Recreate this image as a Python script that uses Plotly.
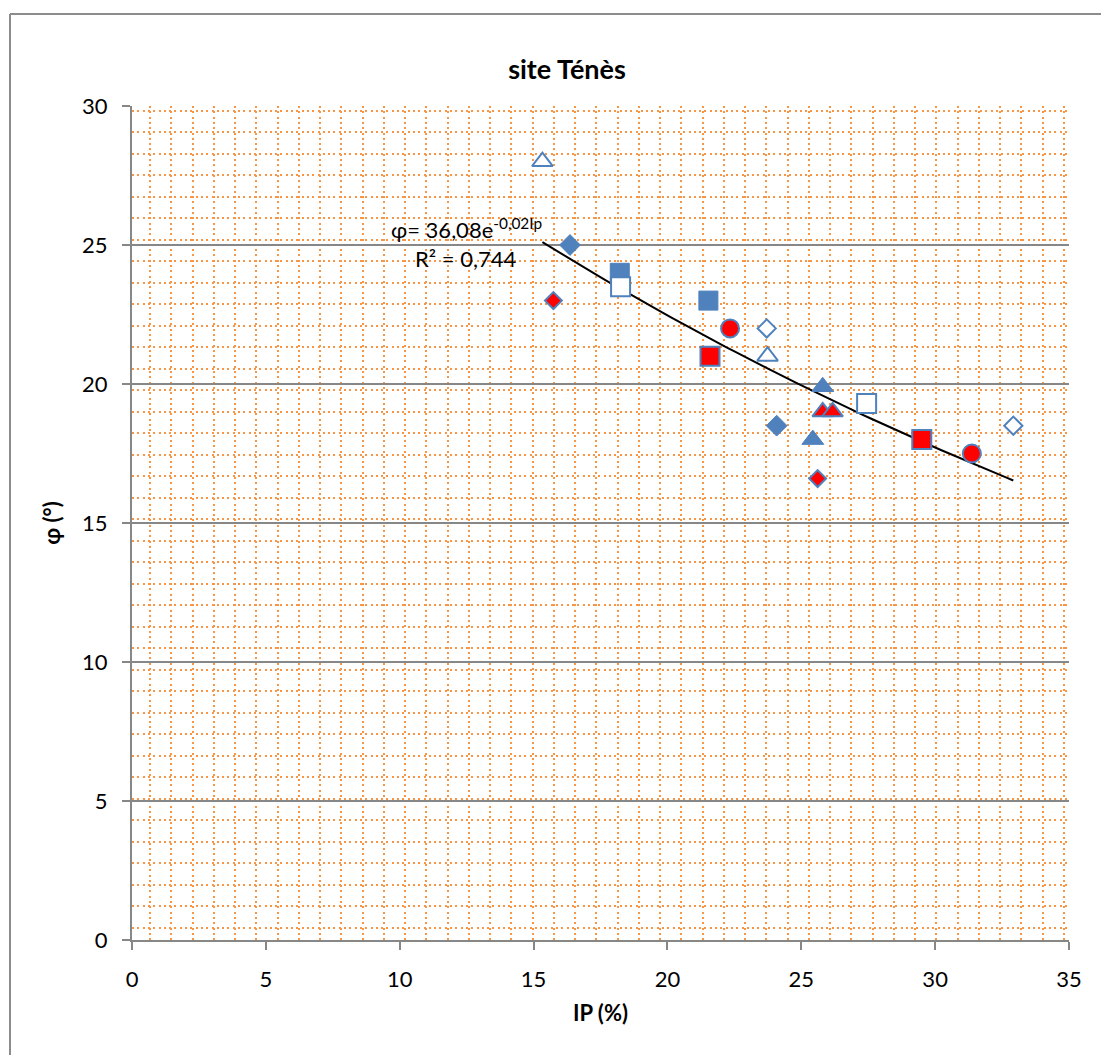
import numpy as np
import plotly.graph_objects as go

# ---------------- data ----------------
blue_diamond_x = [16.36, 24.08]
blue_diamond_y = [25.0, 18.5]
red_diamond_x = [15.74, 25.61]
red_diamond_y = [23.0, 16.6]
open_diamond_x = [23.71, 32.92]
open_diamond_y = [22.0, 18.5]
blue_square_x = [18.22, 21.53]
blue_square_y = [24.0, 23.0]
open_square_x = [18.25, 27.44]
open_square_y = [23.5, 19.3]
red_square_x = [21.59, 29.5]
red_square_y = [21.0, 18.0]
red_circle_x = [22.34, 31.37]
red_circle_y = [22.0, 17.5]
open_triangle_x = [15.33, 23.74]
open_triangle_y = [28.0, 21.0]
blue_triangle_x = [25.8, 25.43]
blue_triangle_y = [19.9, 18.0]
red_triangle_x = [25.8, 26.17]
red_triangle_y = [19.0, 19.0]

x_ticks = [0, 5, 10, 15, 20, 25, 30, 35]
y_ticks = [0, 5, 10, 15, 20, 25, 30]

title_text = "site Ténès"
x_title = "IP (%)"
y_title = "φ (°)"
eq_text = "φ= 36,08e<sup>-0,02Ip</sup>"
r2_text = "R² = 0,744"

# ---------------- styles ----------------
BLUE = "#4F81BD"
RED = "#FF0000"
GRAY = "#878787"
ORANGE = "#F79646"
FONT = "Lato, 'Open Sans', sans-serif"

series = [
    (blue_diamond_x, blue_diamond_y, "diamond", BLUE, 16),
    (red_diamond_x, red_diamond_y, "diamond", RED, 13),
    (open_diamond_x, open_diamond_y, "diamond", "white", 14),
    (blue_square_x, blue_square_y, "square", BLUE, 19),
    (open_square_x, open_square_y, "square", "white", 19),
    (red_square_x, red_square_y, "square", RED, 19),
    (red_circle_x, red_circle_y, "circle", RED, 18),
    (open_triangle_x, open_triangle_y, "triangle-up", "white", 18),
    (blue_triangle_x, blue_triangle_y, "triangle-up", BLUE, 19),
    (red_triangle_x, red_triangle_y, "triangle-up", RED, 18),
]

fig = go.Figure()

# exponential trendline fitted on all points (as the spreadsheet does)
all_x = np.concatenate([np.array(s[0]) for s in series])
all_y = np.concatenate([np.array(s[1]) for s in series])
b, ln_a = np.polyfit(all_x, np.log(all_y), 1)
tx = np.linspace(all_x.min(), all_x.max(), 60)
ty = np.exp(ln_a) * np.exp(b * tx)
fig.add_trace(go.Scatter(x=tx, y=ty, mode="lines",
                         line=dict(color="black", width=2),
                         hoverinfo="skip", showlegend=False))

for sx, sy, sym, fill, size in series:
    fig.add_trace(go.Scatter(
        x=sx, y=sy, mode="markers", showlegend=False,
        marker=dict(symbol=sym, size=size, color=fill,
                    line=dict(color=BLUE, width=2 if fill != BLUE else 1))))

fig.add_annotation(x=12.5, y=25.6, xref="x", yref="y", text=eq_text,
                   showarrow=False, xanchor="center", yanchor="middle",
                   font=dict(family=FONT, size=22, color="black"))
fig.add_annotation(x=12.44, y=24.5, xref="x", yref="y", text=r2_text,
                   showarrow=False, xanchor="center", yanchor="middle",
                   font=dict(family=FONT, size=22, color="black"))

# chart border: only its top and left edges fall inside the picture
BX0, BY1 = -0.1302, 1.1103
fig.add_shape(type="line", xref="paper", yref="paper",
              x0=BX0, x1=1.2, y0=BY1, y1=BY1,
              line=dict(color="#8C8C8C", width=2), layer="below")
fig.add_shape(type="line", xref="paper", yref="paper",
              x0=BX0, x1=BX0, y0=-0.3, y1=BY1,
              line=dict(color="#8C8C8C", width=2), layer="below")

fig.update_layout(
    width=1101, height=1055,
    margin=dict(l=132, r=32, t=106, b=115),
    paper_bgcolor="white", plot_bgcolor="white",
    font=dict(family=FONT, size=22, color="black"),
    title=dict(text="<b>" + title_text + "</b>", x=567 / 1101, xref="container",
               xanchor="center", y=1 - 70 / 1055, yanchor="middle",
               font=dict(family=FONT, size=27, color="black")),
    showlegend=False,
)

fig.update_xaxes(
    range=[0, 35], tickvals=x_ticks, ticktext=[str(v) for v in x_ticks],
    showgrid=False, zeroline=False,
    showline=True, linecolor=GRAY, linewidth=2,
    ticks="outside", ticklen=8, tickwidth=2, tickcolor=GRAY,
    ticklabelstandoff=11,
    tickfont=dict(family=FONT, size=22),
    title=dict(text="<b>" + x_title + "</b>", standoff=14,
               font=dict(family=FONT, size=22)),
    minor=dict(tick0=0.672, dtick=0.7939, showgrid=True,
               gridcolor=ORANGE, gridwidth=2, griddash="2px,3.3px", ticks=""),
)
fig.update_yaxes(
    range=[0, 30], tickvals=y_ticks, ticktext=[str(v) for v in y_ticks],
    showgrid=True, gridcolor=GRAY, gridwidth=1.5, zeroline=False,
    showline=True, linecolor=GRAY, linewidth=2,
    ticks="outside", ticklen=8, tickwidth=2, tickcolor=GRAY,
    ticklabelstandoff=10,
    tickfont=dict(family=FONT, size=22),
    title=dict(text="<b>" + y_title + "</b>", standoff=15,
               font=dict(family=FONT, size=22)),
    minor=dict(tick0=0.442, dtick=0.7734, showgrid=True,
               gridcolor=ORANGE, gridwidth=2, griddash="2px,3.3px", ticks=""),
)

fig.write_html(
    "out.html",
    config={"displayModeBar": False},
    post_script="document.body.style.margin='0';"
                "document.body.style.overflow='hidden';",
)
